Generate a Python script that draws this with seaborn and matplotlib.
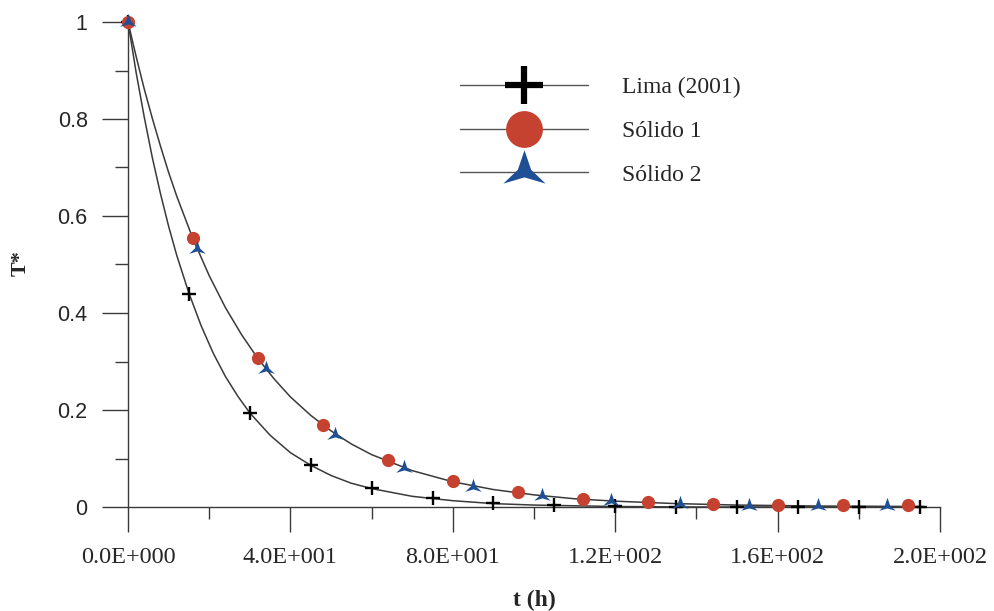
import seaborn as sns
import matplotlib.pyplot as plt
from matplotlib.lines import Line2D
from matplotlib.ticker import MultipleLocator, FixedLocator, FixedFormatter

# markers
lima_t = [0, 15, 30, 45, 60, 75, 90, 105, 120, 135, 150, 165, 180, 195]
lima_T = [1.0, 0.440, 0.193, 0.086, 0.040, 0.018, 0.009, 0.004, 0.002, 0.001, 0.0005, 0.0002, 0.0001, 0.0]

s1_t = [0, 16, 32, 48, 64, 80, 96, 112, 128, 144, 160, 176, 192]
s1_T = [1.0, 0.554, 0.308, 0.170, 0.097, 0.053, 0.030, 0.017, 0.010, 0.007, 0.005, 0.004, 0.004]

s2_t = [0, 17, 34, 51, 68, 85, 102, 119, 136, 153, 170, 187]
s2_T = [1.0, 0.532, 0.284, 0.148, 0.080, 0.042, 0.023, 0.012, 0.006, 0.003, 0.002, 0.002]

# the two solid curves, read at some points along them
curve_lima_t = [0, 2, 4, 6, 8, 10, 12, 15, 18, 21, 24, 27, 30, 35, 40, 45, 50, 55, 60, 70, 80, 90, 100, 120, 140, 170, 196]
curve_lima_T = [1.000, 0.896, 0.804, 0.720, 0.646, 0.579, 0.519, 0.441, 0.374, 0.317, 0.269, 0.229, 0.194,
                0.148, 0.112, 0.086, 0.065, 0.049, 0.038, 0.022, 0.013, 0.007, 0.004, 0.001, 0.0, 0.0, 0.0]

curve_sol_t = [0, 2, 4, 6, 8, 10, 12, 16, 20, 24, 28, 32, 36, 40, 45, 50, 55, 60, 70, 80, 90, 100, 110, 120, 135, 150, 170, 196]
curve_sol_T = [1.000, 0.929, 0.862, 0.801, 0.744, 0.690, 0.641, 0.553, 0.477, 0.411, 0.355, 0.306, 0.264, 0.227,
               0.189, 0.157, 0.130, 0.108, 0.075, 0.052, 0.036, 0.025, 0.017, 0.012, 0.007, 0.004, 0.002, 0.001]

labels = ["Lima (2001)", "Sólido 1", "Sólido 2"]
x_ticks = [0, 40, 80, 120, 160, 200]
x_tick_labels = ["0.0E+000", "4.0E+001", "8.0E+001", "1.2E+002", "1.6E+002", "2.0E+002"]
y_ticks = [0, 0.2, 0.4, 0.6, 0.8, 1.0]
y_tick_labels = ["0", "0.2", "0.4", "0.6", "0.8", "1"]

sns.set_style("ticks")
plt.rcParams['font.family'] = ['Liberation Serif', 'DejaVu Serif']

red = '#c4422f'
blue = '#1f4f94'
grey = '#3a3a3a'

# concave three-pointed star (one tip up, two spread out below)
star3 = [(0, 1), (0.3, 0.12), (0.95, -0.5), (0, -0.22), (-0.95, -0.5), (-0.3, 0.12), (0, 1)]

fig = plt.figure(figsize=(9.94, 6.11), dpi=100)
ax = fig.add_axes([128/994, 1-507/611, 812/994, 485/611])

sns.lineplot(x=curve_lima_t, y=curve_lima_T, ax=ax, color=grey, lw=1.1, sort=False, estimator=None)
sns.lineplot(x=curve_sol_t, y=curve_sol_T, ax=ax, color=grey, lw=1.1, sort=False, estimator=None)

sns.lineplot(x=lima_t, y=lima_T, ax=ax, color='black', ls='none', marker='+',
             markersize=9.5, markeredgewidth=1.7, markeredgecolor='black', clip_on=False, zorder=3)
sns.lineplot(x=s1_t, y=s1_T, ax=ax, color=red, ls='none', marker='o',
             markersize=9.5, markeredgewidth=0, clip_on=False, zorder=4)
sns.lineplot(x=s2_t, y=s2_T, ax=ax, color=blue, ls='none', marker=star3,
             markersize=12.5, markeredgewidth=0, markerfacecolor=blue, clip_on=False, zorder=5)

ax.set_xlim(0, 200)
ax.set_ylim(0, 1)
sns.despine(ax=ax)
for s in ['left', 'bottom']:
    ax.spines[s].set_color(grey)
    ax.spines[s].set_linewidth(1.0)

ax.xaxis.set_major_locator(FixedLocator(x_ticks))
ax.xaxis.set_major_formatter(FixedFormatter(x_tick_labels))
ax.xaxis.set_minor_locator(MultipleLocator(20))
ax.yaxis.set_major_locator(FixedLocator(y_ticks))
ax.yaxis.set_major_formatter(FixedFormatter(y_tick_labels))
ax.yaxis.set_minor_locator(MultipleLocator(0.1))

ax.tick_params(axis='y', which='major', length=19, width=1, color=grey, pad=10,
               labelsize=15.5, labelfontfamily='Liberation Sans')
ax.tick_params(axis='y', which='minor', length=9.5, width=1, color=grey)
ax.tick_params(axis='x', which='major', length=18, width=1, color=grey, pad=11,
               labelsize=17.5, labelfontfamily='Liberation Serif')
ax.tick_params(axis='x', which='minor', length=8.5, width=1, color=grey)

ax.set_xlabel("t (h)", fontsize=17, fontweight='bold', va='center')
ax.xaxis.set_label_coords(0.5, (507-600)/485)
ax.set_ylabel("T*", fontsize=16, fontweight='bold', va='center', ha='center')
ax.yaxis.set_label_coords((21-128)/812, (507-263)/485)

handles = [
    Line2D([0], [0], color='#555555', lw=1, marker='+', markersize=27, markeredgewidth=4.5,
           markeredgecolor='black'),
    Line2D([0], [0], color='#555555', lw=1, marker='o', markersize=26.5, markeredgewidth=0,
           markerfacecolor=red),
    Line2D([0], [0], color='#555555', lw=1, marker=star3, markersize=32, markeredgewidth=0,
           markerfacecolor=blue),
]
ax.legend(handles, labels, loc='upper left', bbox_to_anchor=((460-128)/812, (507-77)/485),
          frameon=False, fontsize=17, handlelength=5.4, handletextpad=1.45, labelspacing=0.93,
          borderpad=0, borderaxespad=0, numpoints=1)

fig.savefig('out.png', dpi=100)
